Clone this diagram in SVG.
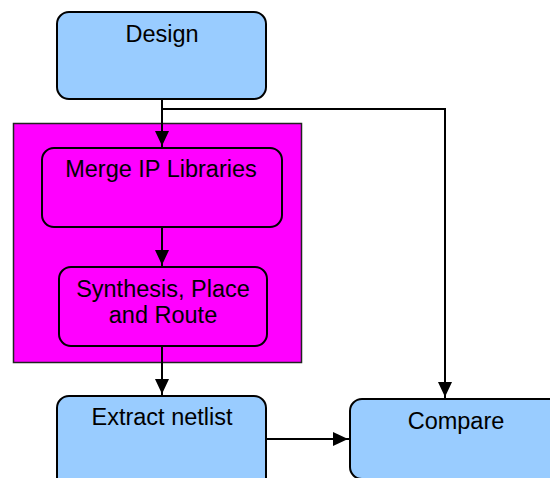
<svg xmlns="http://www.w3.org/2000/svg" width="550" height="478" viewBox="0 0 550 478">
<style>
.blue{fill:#99ccff;stroke:#000;stroke-width:2}
.mag{fill:#ff00ff;stroke:#000;stroke-width:2}
.t{font-family:"Liberation Sans",Arial,sans-serif;font-size:23.5px;text-anchor:middle;fill:#000}
.c{fill:none;stroke:#000;stroke-width:2}
</style>
<defs>
<marker id="ah" markerUnits="userSpaceOnUse" markerWidth="16" markerHeight="16" viewBox="0 0 16 16" refX="16" refY="8" orient="auto">
<path d="M0,1 L15,8 L0,15 Z" fill="#000"/>
</marker>
</defs>
<rect width="550" height="478" fill="#fff"/>
<g id="group-box">
<rect x="13.5" y="123.5" width="288" height="239" fill="#ff00ff" stroke="#222" stroke-width="1.5"/>
</g>
<g id="design">
<rect class="blue" x="57" y="12" width="209" height="87" rx="12"/>
<text class="t" x="162" y="42">Design</text>
</g>
<g id="merge">
<rect class="mag" x="42" y="148" width="240" height="79" rx="12"/>
<text class="t" x="161" y="177">Merge IP Libraries</text>
</g>
<g id="synth">
<rect class="mag" x="59" y="267" width="208" height="79" rx="12"/>
<text class="t" x="163" y="297">Synthesis, Place</text>
<text class="t" x="163" y="323">and Route</text>
</g>
<g id="extract">
<rect class="blue" x="57" y="396" width="209" height="100" rx="12"/>
<text class="t" x="162" y="425">Extract netlist</text>
</g>
<g id="compare">
<rect class="blue" x="350" y="399" width="220" height="80" rx="12"/>
<text class="t" x="456" y="429">Compare</text>
</g>
<g id="connectors">
<path class="c" d="M162,99 V147" marker-end="url(#ah)"/>
<path class="c" d="M162,109 H445 V398" marker-end="url(#ah)"/>
<path class="c" d="M162,227 V266" marker-end="url(#ah)"/>
<path class="c" d="M162,346 V395" marker-end="url(#ah)"/>
<path class="c" d="M266,439 H349" marker-end="url(#ah)"/>
</g>
</svg>
